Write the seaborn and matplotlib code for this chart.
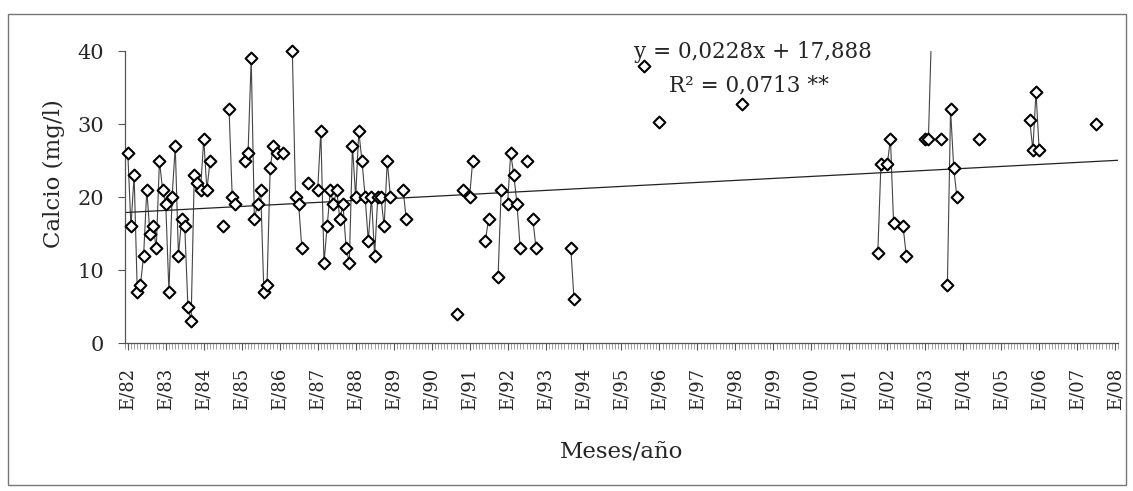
import numpy as np
import pandas as pd
import matplotlib
matplotlib.use("Agg")
import matplotlib.pyplot as plt
from matplotlib.patches import Rectangle
from matplotlib.ticker import MultipleLocator
import seaborn as sns

# month index (0 = January 1982) and calcium (mg/l)
meses = [0, 1, 2, 3, 4, 5, 6, 7, 8, 9, 10, 11, 12, 13, 14, 15, 16, 17, 18, 19, 20,
         21, 22, 23, 24, 25, 26,
         30,
         32, 33, 34,
         37, 38, 39, 40, 41, 42, 43, 44, 45, 46, 47,
         49,
         52, 53, 54, 55,
         57,
         60, 61, 62, 63, 64, 65, 66, 67, 68, 69, 70, 71, 72, 73, 74, 75, 76, 77,
         78, 79, 80, 81, 82, 83,
         87, 88,
         104,
         106,
         108, 109,
         113, 114,
         117, 118,
         120, 121, 122, 123, 124,
         126,
         128, 129,
         140, 141,
         163, 168, 194,
         237, 238,
         240, 241, 242,
         245, 246,
         252, 253, 254,
         257,
         259, 260, 261, 262,
         269,
         285, 286, 287, 288,
         306]
calcio = [26, 16, 23, 7, 8, 12, 21, 15, 16, 13, 25, 21, 19, 7, 20, 27, 12, 17, 16, 5, 3,
          23, 22, 21, 28, 21, 25,
          16,
          32, 20, 19,
          25, 26, 39, 17, 19, 21, 7, 8, 24, 27, 26,
          26,
          40, 20, 19, 13,
          22,
          21, 29, 11, 16, 21, 19, 21, 17, 19, 13, 11, 27, 20, 29, 25, 20, 14, 20,
          12, 20, 20, 16, 25, 20,
          21, 17,
          4,
          21,
          20, 25,
          14, 17,
          9, 21,
          19, 26, 23, 19, 13,
          25,
          17, 13,
          13, 6,
          38, 30.3, 32.8,
          12.3, 24.5,
          24.5, 28, 16.4,
          16, 12,
          28, 28, 43,
          28,
          8, 32, 24, 20,
          28,
          30.6, 26.5, 34.4, 26.5,
          30]

# trend line shown in the chart (x = month number starting at 1)
pendiente = 0.0228
intercepto = 17.888

anios = ["E/%02d" % (y % 100) for y in range(1982, 2009)]

df = pd.DataFrame({"mes": meses, "calcio": calcio})
# consecutive months are joined, gaps break the line
df["tramo"] = np.cumsum(np.diff(df["mes"], prepend=-10) != 1)

sns.set_theme(style="white")
plt.rcParams["font.family"] = ["DejaVu Serif"]

fig = plt.figure(figsize=(11.33, 4.91), dpi=100)
ax = fig.add_axes([0.110, 0.301, 0.877, 0.595])

# connecting lines (clipped at the top of the axis)
sns.lineplot(data=df, x="mes", y="calcio", units="tramo", estimator=None,
             color="#444444", linewidth=0.8, legend=False, ax=ax)
# markers for the points inside the axis range
visibles = df[df["calcio"] <= 40]
sns.scatterplot(data=visibles, x="mes", y="calcio", marker="D", s=36,
                facecolor="white", edgecolor="black", linewidth=1.5,
                clip_on=False, zorder=3, legend=False, ax=ax)

xt = np.array([-1, 313])
ax.plot(xt, pendiente * (xt + 1) + intercepto, color="#222222", linewidth=0.9)

ax.set_xlim(-1, 313)
ax.set_ylim(0, 40)
ax.set_yticks([0, 10, 20, 30, 40])
ax.set_xticks(np.arange(0, 313, 12))
ax.set_xticklabels(anios, rotation=90)
ax.xaxis.set_minor_locator(MultipleLocator(1))
ax.tick_params(axis="y", direction="out", length=5, width=0.8, color="#555555",
               labelsize=15, left=True, pad=10)
ax.tick_params(axis="x", which="major", direction="out", length=5, width=0.8,
               color="#555555", labelsize=13, bottom=True, pad=13)
ax.tick_params(axis="x", which="minor", direction="out", length=4, width=0.5,
               color="#777777", bottom=True)

for s in ["top", "right"]:
    ax.spines[s].set_visible(False)
for s in ["left", "bottom"]:
    ax.spines[s].set_color("#555555")
    ax.spines[s].set_linewidth(0.9)

ax.set_xlabel("Meses/año", fontsize=16.5, labelpad=22)
ax.set_ylabel("Calcio (mg/l)", fontsize=16.5)
ax.yaxis.set_label_coords(-0.060, 0.58)

ax.text(0.632, 0.997, "y = 0,0228x + 17,888", transform=ax.transAxes,
        ha="center", va="center", fontsize=15.5)
ax.text(0.628, 0.884, "R² = 0,0713 **", transform=ax.transAxes,
        ha="center", va="center", fontsize=15.5)

fig.patches.append(Rectangle((8 / 1133, 6 / 491), 1118 / 1133, 471 / 491,
                             transform=fig.transFigure, fill=False,
                             edgecolor="#777777", linewidth=1.0))

fig.savefig("out.png", dpi=100)
plt.close(fig)
